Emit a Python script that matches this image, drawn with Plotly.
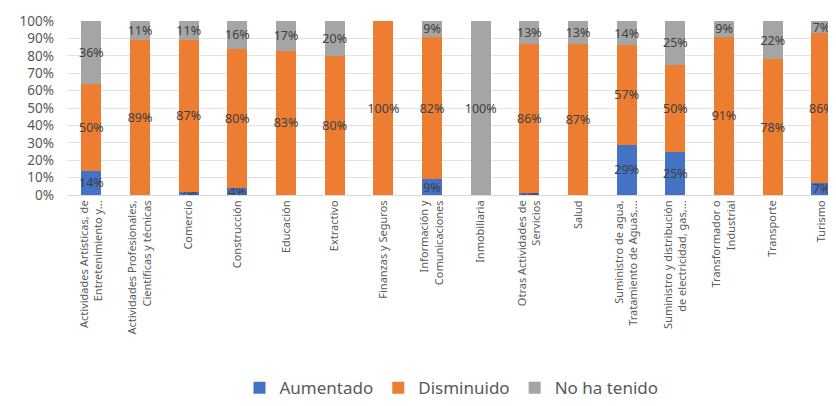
import plotly.graph_objects as go

categories = [
    "Actividades Artísticas, de<br>Entretenimiento y...",
    "Actividades Profesionales,<br>Científicas y técnicas",
    "Comercio",
    "Construcción",
    "Educación",
    "Extractivo",
    "Finanzas y Seguros",
    "Información y<br>Comunicaciones",
    "Inmobiliaria",
    "Otras Actividades de<br>Servicios",
    "Salud",
    "Suministro de agua,<br>Tratamiento de Aguas,...",
    "Suministro y distribución<br>de electricidad, gas,...",
    "Transformador o<br>Industrial",
    "Transporte",
    "Turismo",
]
aumentado = [14, 0, 2, 4, 0, 0, 0, 9, 0, 1, 0, 29, 25, 0, 0, 7]
disminuido = [50, 89, 87, 80, 83, 80, 100, 82, 0, 86, 87, 57, 50, 91, 78, 86]
no_ha_tenido = [36, 11, 11, 16, 17, 20, 0, 9, 100, 13, 13, 14, 25, 9, 22, 7]

series = [
    ("Aumentado", aumentado, "#4472C4"),
    ("Disminuido", disminuido, "#ED7D31"),
    ("No ha tenido", no_ha_tenido, "#A5A5A5"),
]

FONT = "Noto Sans"
fig = go.Figure()
x_idx = list(range(len(categories)))
for name, vals, color in series:
    fig.add_trace(go.Bar(
        name=name,
        x=x_idx,
        y=[v / 100 for v in vals],
        marker=dict(color=color, line=dict(width=0)),
        text=[f"{v}%" if v > 0 else "" for v in vals],
        textposition="inside",
        insidetextanchor="middle",
        textangle=0,
        textfont=dict(color="#404040", size=12.5, family=FONT),
        hoverinfo="skip",
    ))

# The page body has an 8px default margin, so the figure is 8px smaller
fig.update_layout(
    barmode="stack",
    bargap=0.59,
    width=828,
    height=398,
    margin=dict(l=59, r=0, t=13, b=211, autoexpand=False),
    plot_bgcolor="white",
    paper_bgcolor="white",
    uniformtext=dict(minsize=12.5, mode="show"),
    font=dict(family=FONT, color="#595959"),
    legend=dict(
        orientation="h",
        x=0.5, xanchor="center",
        y=-1.11, yanchor="middle",
        font=dict(size=17, color="#595959", family=FONT),
        itemwidth=30,
        traceorder="normal",
    ),
    xaxis=dict(
        tickmode="array",
        tickvals=x_idx,
        ticktext=categories,
        tickangle=-90,
        tickfont=dict(size=11, color="#595959", family=FONT),
        range=[-0.5, 15.3],
        showgrid=False,
        showline=True,
        linecolor="#D9D9D9",
        ticks="",
        automargin=False,
    ),
    yaxis=dict(
        range=[0, 1],
        tickformat=".0%",
        dtick=0.1,
        tickfont=dict(size=13.5, color="#595959", family=FONT),
        ticklabelstandoff=12,
        showgrid=True,
        gridcolor="#E3E3E3",
        zeroline=False,
        ticks="",
        automargin=False,
    ),
)

fig.write_html("out.html")
